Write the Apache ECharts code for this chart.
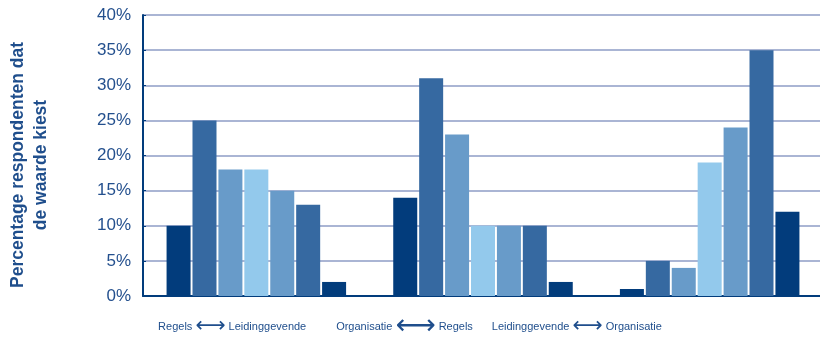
<!DOCTYPE html>
<html>
<head>
<meta charset="utf-8">
<script src="https://cdn.jsdelivr.net/npm/echarts@6/dist/echarts.min.js"></script>
<style>html,body{margin:0;padding:0;background:#fff}#c{width:820px;height:337px}</style>
</head>
<body>
<div id="c"></div>
<script>
var groups = ['Regels ⟷ Leidinggevende', 'Organisatie ⟷ Regels', 'Leidinggevende ⟷ Organisatie'];
var groupLabels = ['{t|Regels} {a|\u27F7} {t|Leidinggevende}', '{t|Organisatie} {b|\u27F7} {t|Regels}', '{t|Leidinggevende} {a|\u27F7} {t|Organisatie}'];
var regelsLeidinggevende = [10, 25, 18, 18, 15, 13, 2];
var organisatieRegels = [14, 31, 23, 10, 10, 10, 2];
var leidinggevendeOrganisatie = [1, 5, 4, 19, 24, 35, 12];
var yTicks = [0, 5, 10, 15, 20, 25, 30, 35, 40];
var barColors = ['#023c7c', '#3669a1', '#689bc9', '#93c9ec', '#689bc9', '#3669a1', '#023c7c'];

var groupData = [regelsLeidinggevende, organisatieRegels, leidinggevendeOrganisatie];
var series = barColors.map(function (col, i) {
  return {
    type: 'bar', xAxisIndex: 0, yAxisIndex: 0,
    data: groupData.map(function (g) { return g[i]; }),
    barWidth: 24, barGap: '8%',
    itemStyle: { color: col },
    silent: true
  };
});

var sans = '"Liberation Sans", Arial, sans-serif';
var chart = echarts.init(document.getElementById('c'));
chart.setOption({
  animation: false,
  grid: [
    { left: 143, top: 15, width: 680, height: 281, containLabel: false, outerBoundsMode: 'none' },
    { left: 146, top: 15, width: 517, height: 281, containLabel: false, outerBoundsMode: 'none' }
  ],
  xAxis: [
    { type: 'category', gridIndex: 0, data: groups,
      axisLine: { show: true, lineStyle: { color: '#023c7c', width: 2 } },
      axisTick: { show: false }, axisLabel: { show: false } },
    { type: 'category', gridIndex: 1, data: groupLabels,
      axisLine: { show: false }, axisTick: { show: false },
      axisLabel: { show: true, interval: 0, margin: 24, fontSize: 11, color: '#1f4e8c',
        fontFamily: sans, lineHeight: 14,
        rich: {
          t: { fontSize: 11, color: '#1f4e8c', fontFamily: sans, lineHeight: 14, verticalAlign: 'middle' },
          a: { fontSize: 21, color: '#1f4e8c', fontFamily: 'DejaVu Sans', lineHeight: 14, verticalAlign: 'middle' },
          b: { fontSize: 28, color: '#1f4e8c', fontFamily: 'DejaVu Sans', lineHeight: 14, verticalAlign: 'middle' }
        } } }
  ],
  yAxis: [
    { type: 'value', gridIndex: 0, min: yTicks[0], max: yTicks[yTicks.length - 1], interval: yTicks[1] - yTicks[0],
      name: 'Percentage respondenten dat\nde waarde kiest',
      nameLocation: 'middle', nameRotate: 90, nameGap: 90,
      nameTextStyle: { fontSize: 17.5, fontWeight: 'bold', color: '#1f4e8c', lineHeight: 23,
        fontFamily: sans, padding: [0, 19, 0, 0] },
      axisLine: { show: true, lineStyle: { color: '#023c7c', width: 2 } },
      axisTick: { show: true, inside: true, length: 3, lineStyle: { color: '#023c7c' } },
      axisLabel: { formatter: '{value}%', fontSize: 17, color: '#24508e', margin: 12,
        fontFamily: sans },
      splitLine: { show: true, lineStyle: { color: '#8e9dc6', width: 1.5 } } },
    { type: 'value', gridIndex: 1, min: 0, max: 40, show: false, splitLine: { show: false } }
  ],
  series: series
});
</script>
</body>
</html>
